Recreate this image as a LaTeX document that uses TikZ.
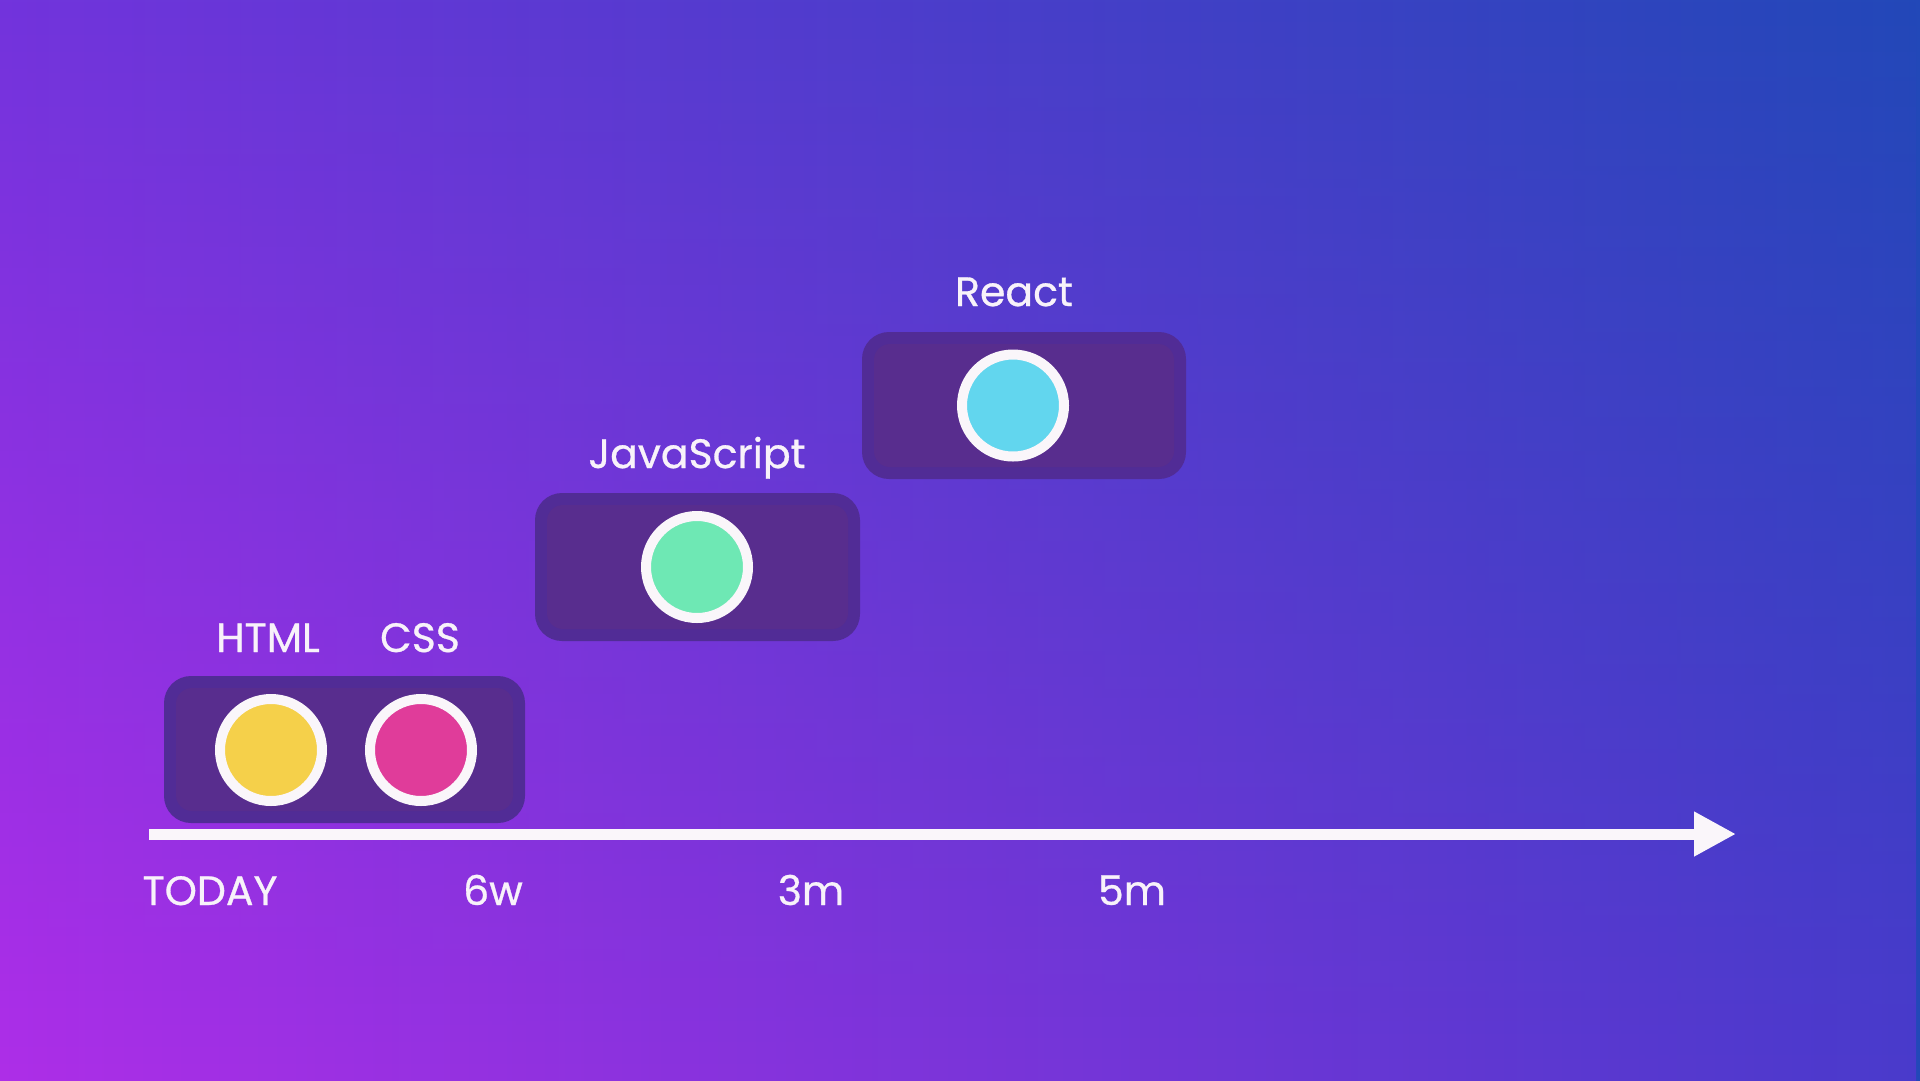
\documentclass[tikz,border=0pt]{standalone}
\usepackage{fontspec}
\setmainfont{Poppins}
\newfontfamily\labelfont{Poppins}[FakeBold=0.7]
\usetikzlibrary{arrows.meta,fadings}

\definecolor{bgTL}{HTML}{7234DC}
\definecolor{bgTR}{HTML}{2248B8}
\definecolor{bgBL}{HTML}{AE2EE8}
\definecolor{bgBR}{HTML}{4A3ACC}
\definecolor{boxedge}{HTML}{512C96}
\definecolor{boxfill}{HTML}{582D8E}
\definecolor{ringc}{HTML}{FAF6FA}
\definecolor{inkc}{HTML}{F8F2FA}
\definecolor{htmlc}{HTML}{F5D04A}
\definecolor{cssc}{HTML}{E03C9A}
\definecolor{jsc}{HTML}{6EE8B4}
\definecolor{reactc}{HTML}{62D6EE}

\tikzset{
  stagebox/.style={rectangle, fill=boxedge, rounded corners=27pt, inner sep=0pt},
  stagecore/.style={rectangle, fill=boxfill, rounded corners=16pt, inner sep=0pt},
  dot/.style={circle, draw=ringc, line width=10pt, minimum size=102pt, inner sep=0pt},
  lbl/.style={anchor=base, text=inkc, inner sep=0pt, font=\labelfont\fontsize{41}{41}\selectfont},
  axisline/.style={draw=ringc, line width=11pt, -{Triangle[length=42pt, width=42pt]}}
}

\begin{document}
\begin{tikzpicture}[x=1pt, y=-1pt]
  \useasboundingbox (0,0) rectangle (1920,1080);
  % background: bilinear blend of the four corner colours
  \shade[left color=bgTL, right color=bgTR] (0,0) rectangle (1920,1080);
  \shade[left color=bgBL, right color=bgBR, path fading=north] (0,0) rectangle (1920,1080);

  % stage panels
  \node[stagebox, minimum width=361pt, minimum height=147pt] (b1) at (344.5,749.5) {};
  \node[stagecore, minimum width=337pt, minimum height=123pt] (b1in) at (b1) {};
  \node[stagebox, minimum width=325pt, minimum height=148pt] (b2) at (697.5,567) {};
  \node[stagecore, minimum width=301pt, minimum height=124pt] (b2in) at (b2) {};
  \node[stagebox, minimum width=324pt, minimum height=147pt] (b3) at (1024,405.5) {};
  \node[stagecore, minimum width=300pt, minimum height=123pt] (b3in) at (b3) {};

  % skill markers
  \node[dot, fill=htmlc]  (html)  at (271,750) {};
  \node[dot, fill=cssc]   (css)   at (421,750) {};
  \node[dot, fill=jsc]    (js)    at (697,567) {};
  \node[dot, fill=reactc] (react) at (1013,405.5) {};

  % skill names
  \node[lbl] (htmlt)  at (268,652) {HTML};
  \node[lbl] (csst)   at (420,652) {CSS};
  \node[lbl] (jst)    at (697,468) {JavaScript};
  \node[lbl] (reactt) at (1014,306) {React};

  % time axis
  \coordinate (axstart) at (149,834);
  \coordinate (axend) at (1736,834);
  \draw[axisline] (axstart) -- (axend);

  % time marks
  \node[lbl] (today) at (210,905) {TODAY};
  \node[lbl] (w6)    at (493,905) {6w};
  \node[lbl] (m3)    at (811,905) {3m};
  \node[lbl] (m5)    at (1132,905) {5m};
\end{tikzpicture}
\end{document}
